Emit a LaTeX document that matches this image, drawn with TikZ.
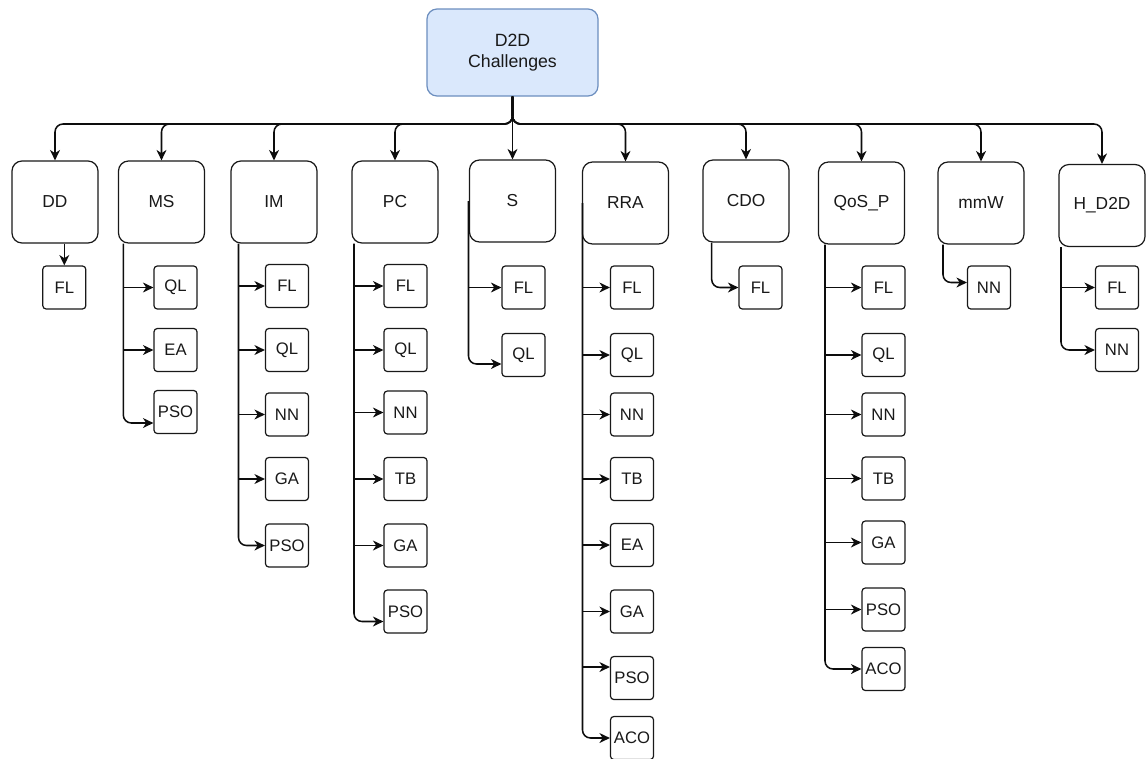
\documentclass[tikz,border=0pt]{standalone}
\usepackage{fontspec}
\setmainfont{Liberation Sans}
\usetikzlibrary{arrows.meta}

\definecolor{rootedge}{HTML}{6C8EBF}
\definecolor{rootfill}{HTML}{DAE8FC}

\tikzset{
  x=0.75pt, y=-0.75pt,
  every node/.style={text=black!90, inner sep=0pt, align=center},
  rootbox/.style={draw=rootedge, fill=rootfill, line width=0.9pt,
    font=\fontsize{13.3}{15.5}\selectfont,
    rounded corners=7.5pt, minimum width=171*0.75pt, minimum height=87*0.75pt},
  topic/.style={draw=black!90, line width=0.9pt, rounded corners=7.5pt,
    font=\fontsize{13}{15}\selectfont,
    minimum width=86*0.75pt, minimum height=82*0.75pt},
  leaf/.style={draw=black!90, line width=0.9pt, rounded corners=2.5pt,
    font=\fontsize{12.5}{15}\selectfont,
    minimum width=43*0.75pt, minimum height=43*0.75pt},
  conn/.style={draw=black!95, line width=1.15pt,
    -{Stealth[length=7.8pt, width=7.4pt, inset=2.4pt]}},
  elbow/.style={rounded corners=6pt},
}

\begin{document}
\begin{tikzpicture}
\fill[white] (0,0) rectangle (1146,758);
\useasboundingbox (0,0) rectangle (1146,758);

% root
\node[rootbox] (root) at (512.5,52.5) {D2D\\Challenges};
\coordinate (bus) at (0,124);

% first level
\node[topic] (DD)  at (55,202)    {DD};
\node[topic] (MS)  at (161.5,202) {MS};
\node[topic] (IM)  at (274,202)   {IM};
\node[topic] (PC)  at (395,202)   {PC};
\node[topic] (S)   at (512.5,201) {S};
\node[topic] (RRA) at (625.5,203) {RRA};
\node[topic] (CDO) at (746,201)   {CDO};
\node[topic] (QoS) at (861.5,203) {QoS\_P};
\node[topic] (mmW) at (981,203)   {mmW};
\node[topic] (HD)  at (1102,205.5){H\_D2D};

\foreach \c in {DD,MS,IM,PC,RRA,CDO,QoS,mmW,HD}
  \draw[conn, elbow] (root.south) -- (root.south |- bus) -| (\c.north);
\draw[conn] (root.south) -- (S.north);

% trunk lines
\coordinate (MSx)  at (123.3,0);
\coordinate (IMx)  at (238.5,0);
\coordinate (PCx)  at (354,0);
\coordinate (Sx)   at (468.5,0);
\coordinate (RRAx) at (582.5,0);
\coordinate (CDOx) at (711.7,0);
\coordinate (QoSx) at (825,0);
\coordinate (mmWx) at (943,0);
\coordinate (HDx)  at (1061,0);

% DD
\node[leaf] (DD1) at (64.3,287.5) {FL};
\draw[conn] (DD.south -| DD1.north) -- (DD1.north);

% MS
\node[leaf] (MS1) at (175.5,287.5) {QL};
\node[leaf] (MS2) at (175.5,350)   {EA};
\node[leaf] (MS3) at (175.5,412)   {PSO};
\draw[conn, elbow] (MS.south -| MSx) |- ([yshift=-8.25pt]MS3.west);
\foreach \c in {MS1,MS2}
  \draw[conn] (\c.west -| MSx) -- (\c.west);

% IM
\node[leaf] (IM1) at (287,286)   {FL};
\node[leaf] (IM2) at (287,350)   {QL};
\node[leaf] (IM3) at (287,414.5) {NN};
\node[leaf] (IM4) at (287,479)   {GA};
\node[leaf] (IM5) at (287,545.5) {PSO};
\draw[conn, elbow] (IM.south -| IMx) |- (IM5.west);
\foreach \c in {IM1,IM2,IM3,IM4}
  \draw[conn] (\c.west -| IMx) -- (\c.west);

% PC
\node[leaf] (PC1) at (405.5,286)   {FL};
\node[leaf] (PC2) at (405.5,350)   {QL};
\node[leaf] (PC3) at (405.5,412.5) {NN};
\node[leaf] (PC4) at (405.5,479)   {TB};
\node[leaf] (PC5) at (405.5,545.5) {GA};
\node[leaf] (PC6) at (405.5,611.5) {PSO};
\draw[conn, elbow] (PC.south -| PCx) |- ([yshift=-7.5pt]PC6.west);
\foreach \c in {PC1,PC2,PC3,PC4,PC5}
  \draw[conn] (\c.west -| PCx) -- (\c.west);

% S
\node[leaf] (S1) at (523.5,287.5) {FL};
\node[leaf] (S2) at (523.5,355)   {QL};
\draw[conn, elbow] (S.west -| Sx) |- ([yshift=-6.75pt]S2.west);
\draw[conn] (S1.west -| Sx) -- (S1.west);

% RRA
\node[leaf] (R1) at (632,287.5) {FL};
\node[leaf] (R2) at (632,355)   {QL};
\node[leaf] (R3) at (632,414.5) {NN};
\node[leaf] (R4) at (632,479)   {TB};
\node[leaf] (R5) at (632,545)   {EA};
\node[leaf] (R6) at (632,611.5) {GA};
\node[leaf] (R7) at (632,678)   {PSO};
\node[leaf] (R8) at (632,738)   {ACO};
\draw[conn, elbow] (RRA.west -| RRAx) |- (R8.west);
\foreach \c in {R1,R2,R3,R4,R5,R6}
  \draw[conn] (\c.west -| RRAx) -- (\c.west);
\draw[conn] ([yshift=8.25pt]R7.west -| RRAx) -- ([yshift=8.25pt]R7.west);

% CDO
\node[leaf] (C1) at (760.5,287.5) {FL};
\draw[conn, elbow] (CDO.south -| CDOx) |- (C1.west);

% QoS_P
\node[leaf] (Q1) at (883.5,287.5) {FL};
\node[leaf] (Q2) at (883.5,355)   {QL};
\node[leaf] (Q3) at (883.5,414.5) {NN};
\node[leaf] (Q4) at (883.5,478.5) {TB};
\node[leaf] (Q5) at (883.5,542.5) {GA};
\node[leaf] (Q6) at (883.5,609.5) {PSO};
\node[leaf] (Q7) at (883.5,669)   {ACO};
\draw[conn, elbow] (QoS.south -| QoSx) |- (Q7.west);
\foreach \c in {Q1,Q2,Q3,Q4,Q5,Q6}
  \draw[conn] (\c.west -| QoSx) -- (\c.west);

% mmW
\node[leaf] (M1) at (989,287.5) {NN};
\draw[conn, elbow] (mmW.south -| mmWx) |- ([yshift=3.75pt]M1.west);

% H_D2D
\node[leaf] (H1) at (1117,287.5) {FL};
\node[leaf] (H2) at (1117,350)   {NN};
\draw[conn, elbow] (HD.south -| HDx) |- (H2.west);
\draw[conn] (H1.west -| HDx) -- (H1.west);
\end{tikzpicture}
\end{document}
